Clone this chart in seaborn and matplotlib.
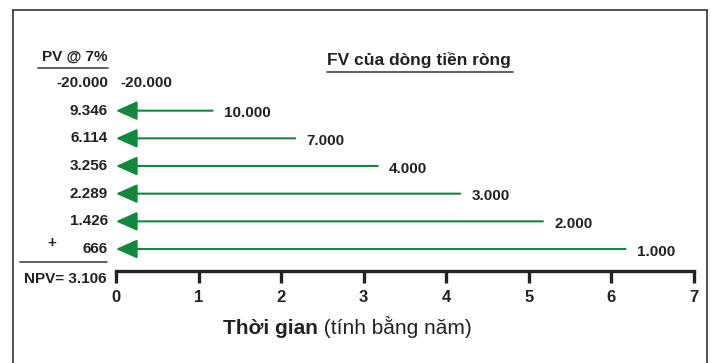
import matplotlib
matplotlib.use("Agg")
import matplotlib.pyplot as plt
from matplotlib.lines import Line2D
import seaborn as sns

# Cash-flow timeline: future values discounted back to year 0 at 7%
years = [0, 1, 2, 3, 4, 5, 6]
fv_values = [-20000, 10000, 7000, 4000, 3000, 2000, 1000]
pv_values = [-20000, 9346, 6114, 3256, 2289, 1426, 666]
npv_value = 3106
x_ticks = [0, 1, 2, 3, 4, 5, 6, 7]

title_text = "FV của dòng tiền ròng"
pv_header = "PV @ 7%"
xlabel_bold = "Thời gian"
xlabel_rest = " (tính bằng năm)"

sns.set_theme(style="white")
plt.rcParams["font.family"] = ["Liberation Sans", "DejaVu Sans"]

W, H, DPI = 711, 363, 100
TEXT = "#222222"
GREEN = "#13873e"

fig = plt.figure(figsize=(W / DPI, H / DPI), dpi=DPI)
ax = fig.add_axes([116 / W, 92 / H, 578 / W, 231 / H])
ax.set_xlim(0, 7)
ax.set_ylim(0.205, 8.554)
ax.patch.set_alpha(0)


def fig_to_data(px, py):
    """Convert a pixel position (origin top-left) to data coordinates."""
    return ax.transData.inverted().transform((px, H - py))


# row 7 is year 0 at the top, row 1 is year 6 at the bottom
rows = [7 - y for y in years]

# arrows from each future value back to time 0
tail_overshoot = 0.17
for yr, fv, row in zip(years, fv_values, rows):
    label = f"{fv:,}".replace(",", ".")
    if yr == 0:
        ax.text(0.05, row, label, ha="left", va="center", fontsize=11,
                fontweight="bold", color=TEXT)
        continue
    tail = yr + tail_overshoot
    ax.annotate("", xy=(0, row), xytext=(tail, row),
                arrowprops=dict(arrowstyle="-|>,head_length=1.3,head_width=0.58",
                                mutation_scale=10, color=GREEN, lw=1.5,
                                shrinkA=0, shrinkB=0))
    ax.annotate(label, xy=(tail, row), xytext=(8, -2), textcoords="offset points",
                ha="left", va="center", fontsize=11, fontweight="bold", color=TEXT)

# present values column on the left
pv_x = fig_to_data(108, 0)[0]
for pv, row in zip(pv_values, rows):
    ax.text(pv_x, row, f"{pv:,}".replace(",", "."), ha="right", va="center",
            fontsize=11, fontweight="bold", color=TEXT, clip_on=False)

hx, hy = fig_to_data(108, 57)
ax.text(hx, hy, pv_header, ha="right", va="center", fontsize=11,
        fontweight="bold", color=TEXT, clip_on=False)
(ux0, uy), (ux1, _) = fig_to_data(38, 68), fig_to_data(108, 68)
ax.plot([ux0, ux1], [uy, uy], color="#444444", lw=1.2, clip_on=False)

plx, ply = fig_to_data(52, 243)
ax.text(plx, ply, "+", ha="center", va="center", fontsize=11,
        fontweight="bold", color=TEXT, clip_on=False)
(nx0, ny), (nx1, _) = fig_to_data(20, 262), fig_to_data(107, 262)
ax.plot([nx0, nx1], [ny, ny], color="#444444", lw=1.2, clip_on=False)
npx, npy = fig_to_data(107, 279)
ax.text(npx, npy, "NPV= " + f"{npv_value:,}".replace(",", "."), ha="right",
        va="center", fontsize=11, fontweight="bold", color=TEXT, clip_on=False)

# section title with underline
tx, ty = fig_to_data(327, 60)
ax.text(tx, ty, title_text, ha="left", va="center", fontsize=12.5,
        fontweight="bold", color=TEXT)
(tx0, tuy), (tx1, _) = fig_to_data(327, 72), fig_to_data(513, 72)
ax.plot([tx0, tx1], [tuy, tuy], color="#444444", lw=1.2, clip_on=False)

# time axis
sns.despine(ax=ax, left=True, top=True, right=True)
ax.spines["bottom"].set_linewidth(2.4)
ax.spines["bottom"].set_color(TEXT)
ax.set_xticks(x_ticks)
ax.set_xticklabels([str(v) for v in x_ticks], fontsize=12, fontweight="bold", color=TEXT)
ax.set_yticks([])
ax.tick_params(axis="x", direction="out", length=8.5, width=2.4, color=TEXT, pad=5,
               bottom=True)

# axis title: bold word followed by a regular-weight note, sharing one baseline
lx, ly = fig_to_data(223, 334)
bold_part = ax.text(lx, ly, xlabel_bold, ha="left", va="baseline", fontsize=15,
                    fontweight="bold", color=TEXT, clip_on=False)
fig.canvas.draw()
bb = bold_part.get_window_extent()
rx = ax.transData.inverted().transform((bb.x1, 0))[0]
ax.text(rx, ly, xlabel_rest, ha="left", va="baseline", fontsize=15,
        color=TEXT, clip_on=False)

# outer frame (top, left, right)
frame_kw = dict(color="#333333", lw=1.2, transform=fig.transFigure)
fig.add_artist(Line2D([12.5 / W, 12.5 / W], [0, 1 - 10 / H], **frame_kw))
fig.add_artist(Line2D([12.5 / W, 707 / W], [1 - 10 / H, 1 - 10 / H], **frame_kw))
fig.add_artist(Line2D([707 / W, 707 / W], [0, 1 - 10 / H], **frame_kw))

fig.savefig("out.png", dpi=DPI)
